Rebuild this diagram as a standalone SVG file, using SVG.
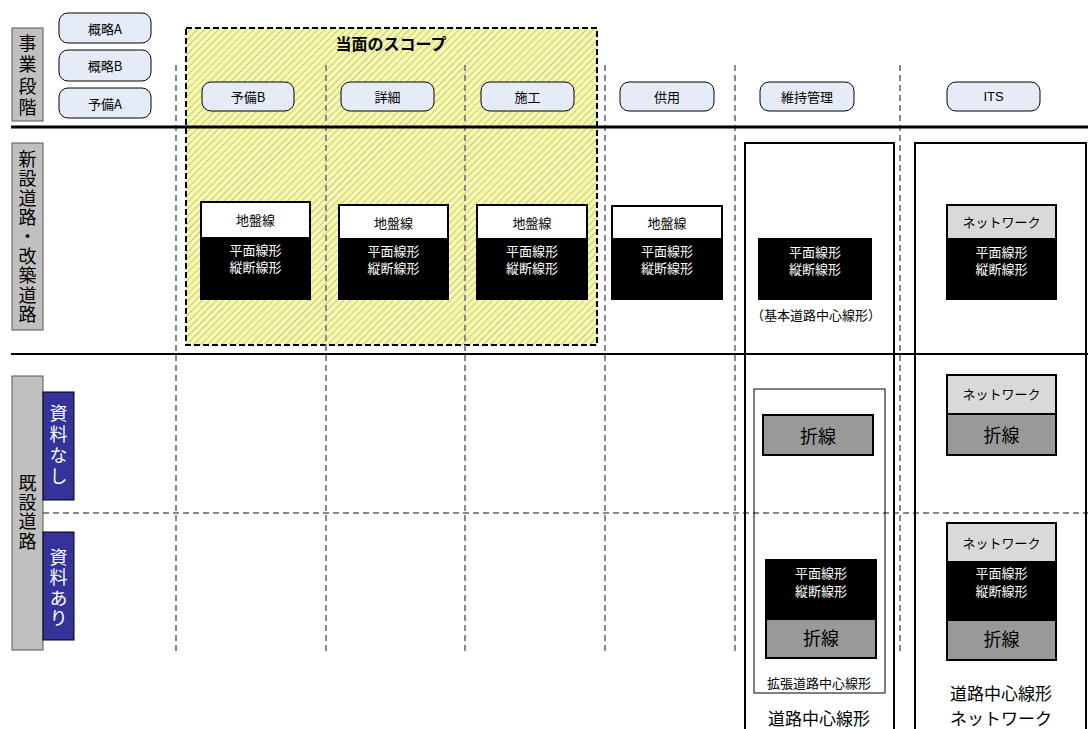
<svg xmlns="http://www.w3.org/2000/svg" width="1088" height="729" viewBox="0 0 1088 729">
<style>
text{font-family:"Noto Sans CJK JP","Liberation Sans",sans-serif;text-anchor:middle;dominant-baseline:central;fill:#000}
.pill{fill:#E6ECF7;stroke:#000;stroke-width:1}
.pt{font-size:13px}
.box{stroke:#000;stroke-width:2}
.wt{fill:#fff}
.s13{font-size:13px}
.s17{font-size:17px}
.s18{font-size:18px}
.vt{font-size:18px;writing-mode:vertical-rl;text-anchor:start}
.vd{stroke:#888;stroke-width:2;stroke-dasharray:6,4;fill:none}
.lab{fill:#C0C0C0;stroke:#555;stroke-width:1}
.blu{fill:#333399;stroke:#000;stroke-width:1}
</style>
<defs>
<pattern id="hatch" width="5" height="5" patternUnits="userSpaceOnUse" patternTransform="rotate(45)">
<rect width="5" height="5" fill="#FAFA9E"/>
<line x1="0" y1="0" x2="0" y2="5" stroke="#A9B6C4" stroke-width="1.6"/>
</pattern>
</defs>

<g id="scope">
<rect x="186" y="28" width="411" height="317" fill="url(#hatch)" stroke="#000" stroke-width="2" stroke-dasharray="6,3"/>
<text x="391" y="43" style="font-size:16px;font-weight:bold">当面のスコープ</text>
</g>

<g id="connectors">
<line class="vd" x1="176" y1="65" x2="176" y2="655"/>
<line class="vd" x1="326" y1="65" x2="326" y2="655"/>
<line class="vd" x1="465" y1="65" x2="465" y2="655"/>
<line class="vd" x1="605" y1="65" x2="605" y2="655"/>
<line class="vd" x1="735" y1="65" x2="735" y2="655"/>
<line class="vd" x1="900" y1="65" x2="900" y2="655"/>
<line class="vd" x1="43" y1="513" x2="1088" y2="513"/>
<line x1="11" y1="127" x2="1088" y2="127" stroke="#000" stroke-width="3"/>
<line x1="11" y1="354" x2="1088" y2="354" stroke="#000" stroke-width="2"/>
</g>

<g id="label-jigyo">
<rect class="lab" x="12" y="28" width="31" height="93"/>
<text class="vt" x="27.5" y="34" style="letter-spacing:3.5px">事業段階</text>
</g>

<g id="label-shinsetsu">
<rect class="lab" x="12" y="143" width="31" height="187"/>
<text class="vt" x="27.5" y="150" style="letter-spacing:1.4px">新設道路・改築道路</text>
</g>

<g id="label-kisetsu">
<rect class="lab" x="12" y="376" width="31" height="274"/>
<text class="vt" x="27.5" y="474" style="letter-spacing:1.3px">既設道路</text>
</g>

<g id="label-nashi">
<rect class="blu" x="43" y="392" width="31" height="108"/>
<text class="vt" x="58.5" y="404" style="letter-spacing:3px;fill:#fff">資料なし</text>
</g>

<g id="label-ari">
<rect class="blu" x="43" y="532" width="31" height="108"/>
<text class="vt" x="58.5" y="548" style="letter-spacing:2.5px;fill:#fff">資料あり</text>
</g>

<g id="stage-gairyakuA"><rect class="pill" x="59" y="13" width="92" height="30" rx="9"/><text class="pt" x="105" y="28">概略A</text></g>
<g id="stage-gairyakuB"><rect class="pill" x="59" y="50" width="92" height="31" rx="9"/><text class="pt" x="105" y="65.5">概略B</text></g>
<g id="stage-yobiA"><rect class="pill" x="59" y="88" width="92" height="30" rx="9"/><text class="pt" x="105" y="103">予備A</text></g>
<g id="stage-yobiB"><rect class="pill" x="202" y="82" width="92" height="29" rx="9"/><text class="pt" x="248" y="96.5">予備B</text></g>
<g id="stage-shosai"><rect class="pill" x="341" y="82" width="93" height="29" rx="9"/><text class="pt" x="387.5" y="96.5">詳細</text></g>
<g id="stage-seko"><rect class="pill" x="481" y="82" width="93" height="29" rx="9"/><text class="pt" x="527.5" y="96.5">施工</text></g>
<g id="stage-kyoyo"><rect class="pill" x="620" y="82" width="94" height="29" rx="9"/><text class="pt" x="667" y="96.5">供用</text></g>
<g id="stage-iji"><rect class="pill" x="760" y="82" width="94" height="29" rx="9"/><text class="pt" x="807" y="96.5">維持管理</text></g>
<g id="stage-its"><rect class="pill" x="947" y="82" width="93" height="29" rx="9"/><text class="pt" x="993.5" y="96.5" style="font-family:'Liberation Sans',sans-serif">ITS</text></g>

<g id="col-iji">
<rect x="745" y="143" width="149" height="600" fill="none" stroke="#000" stroke-width="2"/>
</g>
<g id="col-its">
<rect x="915" y="143" width="171" height="600" fill="none" stroke="#000" stroke-width="2"/>
</g>

<g id="new-yobiB">
<rect class="box" x="201" y="202" width="109" height="97" fill="#000"/>
<rect x="202" y="203" width="107" height="34" fill="#fff"/>
<text class="s13" x="255.5" y="219">地盤線</text>
<text class="s13 wt" x="255.5" y="249">平面線形</text>
<text class="s13 wt" x="255.5" y="266">縦断線形</text>
</g>
<g id="new-shosai">
<rect class="box" x="339" y="205" width="109" height="94" fill="#000"/>
<rect x="340" y="206" width="107" height="32" fill="#fff"/>
<text class="s13" x="393.5" y="222">地盤線</text>
<text class="s13 wt" x="393.5" y="250">平面線形</text>
<text class="s13 wt" x="393.5" y="267">縦断線形</text>
</g>
<g id="new-seko">
<rect class="box" x="477" y="205" width="110" height="94" fill="#000"/>
<rect x="478" y="206" width="108" height="32" fill="#fff"/>
<text class="s13" x="532" y="222">地盤線</text>
<text class="s13 wt" x="532" y="250">平面線形</text>
<text class="s13 wt" x="532" y="267">縦断線形</text>
</g>
<g id="new-kyoyo">
<rect class="box" x="612" y="206" width="110" height="93" fill="#000"/>
<rect x="613" y="207" width="108" height="31" fill="#fff"/>
<text class="s13" x="667" y="222">地盤線</text>
<text class="s13 wt" x="667" y="250">平面線形</text>
<text class="s13 wt" x="667" y="267">縦断線形</text>
</g>
<g id="new-iji">
<rect class="box" x="759" y="239" width="112" height="60" fill="#000"/>
<text class="s13 wt" x="815" y="251">平面線形</text>
<text class="s13 wt" x="815" y="268">縦断線形</text>
<text class="s13" x="816" y="314">（基本道路中心線形）</text>
</g>
<g id="new-its">
<rect class="box" x="947" y="205" width="109" height="94" fill="#000"/>
<rect x="948" y="206" width="107" height="32" fill="#D9D9D9"/>
<text class="s13" x="1001.5" y="221">ネットワーク</text>
<text class="s13 wt" x="1001.5" y="251">平面線形</text>
<text class="s13 wt" x="1001.5" y="268">縦断線形</text>
</g>

<g id="ext-iji">
<rect x="754" y="389" width="131" height="304" fill="none" stroke="#000" stroke-width="1"/>
<rect class="box" x="763" y="415" width="110" height="40" fill="#999"/>
<text class="s18" x="818" y="435">折線</text>
<rect class="box" x="766" y="560" width="110" height="98" fill="#000"/>
<rect x="767" y="620" width="108" height="37" fill="#999"/>
<line x1="766" y1="619" x2="876" y2="619" stroke="#000" stroke-width="2"/>
<text class="s13 wt" x="821" y="572">平面線形</text>
<text class="s13 wt" x="821" y="590">縦断線形</text>
<text class="s18" x="821" y="637">折線</text>
<text class="s13" x="819" y="682">拡張道路中心線形</text>
<text class="s17" x="819" y="717">道路中心線形</text>
</g>

<g id="ext-its">
<rect class="box" x="947" y="375" width="109" height="80" fill="#999"/>
<rect x="948" y="376" width="107" height="37" fill="#D9D9D9"/>
<line x1="947" y1="414" x2="1056" y2="414" stroke="#000" stroke-width="2"/>
<text class="s13" x="1001.5" y="393">ネットワーク</text>
<text class="s18" x="1001.5" y="434">折線</text>
<rect class="box" x="947" y="523" width="109" height="137" fill="#000"/>
<rect x="948" y="524" width="107" height="37" fill="#D9D9D9"/>
<rect x="948" y="621" width="107" height="38" fill="#999"/>
<line x1="947" y1="620" x2="1056" y2="620" stroke="#000" stroke-width="2"/>
<text class="s13" x="1001.5" y="542">ネットワーク</text>
<text class="s13 wt" x="1001.5" y="572">平面線形</text>
<text class="s13 wt" x="1001.5" y="590">縦断線形</text>
<text class="s18" x="1001.5" y="638">折線</text>
<text class="s17" x="1001" y="692">道路中心線形</text>
<text class="s17" x="1001" y="717">ネットワーク</text>
</g>
</svg>
